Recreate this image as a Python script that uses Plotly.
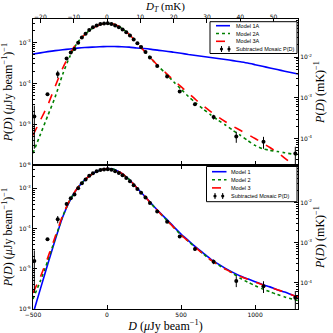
"""
P(D) comparison chart: subtracted mosaic P(D) versus models
"""
import math
import plotly.graph_objects as go

# Subtracted mosaic P(D) data points (D in uJy/beam)
d_data = [-491, -402, -333, -273, -245, -220, -195, -170, -145, -120, -95, -70,
          -45, -20, 5, 30, 55, 80, 105, 130, 155, 180, 205, 230, 260, 290, 339,
          406, 491, 594, 720, 873, 1057, 1272]
p_data = [1.55e-5, 5.4e-5, 1.7e-4, 4.1e-4, 5.7e-4, 7.0e-4, 1.0e-3, 1.33e-3,
          1.65e-3, 2.05e-3, 2.38e-3, 2.65e-3, 2.85e-3, 2.95e-3, 2.97e-3, 2.88e-3,
          2.65e-3, 2.4e-3, 2.1e-3, 1.8e-3, 1.5e-3, 1.2e-3, 9.6e-4, 7.8e-4, 5.9e-4,
          4.3e-4, 2.66e-4, 1.47e-4, 6.3e-5, 3.1e-5, 1.5e-5, 5.0e-6, 3.7e-6, 1.9e-6]
p_err = [1.3e-5, 4e-6, 3.5e-5, 3e-5, 3e-5, 3e-5, 4e-5, 4e-5, 4e-5, 5e-5, 5e-5,
         5e-5, 5e-5, 5e-5, 5e-5, 5e-5, 5e-5, 5e-5, 5e-5, 4e-5, 4e-5, 4e-5, 3e-5,
         3e-5, 2.5e-5, 2e-5, 1.5e-5, 8e-6, 4e-6, 3e-6, 2e-6, 1.5e-6, 1.2e-6, 9e-7]

# model curves, log10 P(D) on a common D grid
d_mod = [-500, -450, -400, -350, -300, -250, -200, -150, -100, -50, 0, 50, 100,
         150, 200, 250, 300, 350, 400, 450, 500, 550, 600, 650, 700, 750, 800,
         850, 900, 950, 1000, 1050, 1100, 1150, 1200, 1250, 1290]

log_1a = [-3.28, -3.25, -3.22, -3.195, -3.175, -3.155, -3.135, -3.12, -3.11, -3.10,
          -3.095, -3.095, -3.10, -3.11, -3.13, -3.145, -3.165, -3.19, -3.21, -3.235,
          -3.26, -3.29, -3.315, -3.34, -3.365, -3.39, -3.415, -3.44, -3.47, -3.50,
          -3.54, -3.58, -3.62, -3.66, -3.70, -3.74, -3.77]
log_2a = [-5.71, -5.25, -4.79, -4.33, -3.78, -3.33, -3.0, -2.80, -2.655, -2.56,
          -2.53, -2.55, -2.645, -2.80, -2.99, -3.2, -3.40, -3.59, -3.77, -3.96,
          -4.14, -4.32, -4.48, -4.63, -4.77, -4.90, -5.02, -5.15, -5.27, -5.40,
          -5.52, -5.60, -5.64, -5.67, -5.70, -5.73, -5.75]
log_3a = [-5.27, -4.9, -4.53, -4.07, -3.63, -3.27, -2.98, -2.80, -2.655, -2.56,
          -2.53, -2.55, -2.645, -2.80, -2.99, -3.2, -3.40, -3.58, -3.75, -3.92,
          -4.08, -4.24, -4.40, -4.55, -4.69, -4.82, -4.94, -5.05, -5.15, -5.25,
          -5.35, -5.46, -5.57, -5.69, -5.83, -5.98, -6.12]

log_1 = [-6.12, -5.5, -4.88, -4.28, -3.72, -3.3, -3.0, -2.79, -2.645, -2.55,
         -2.51, -2.53, -2.63, -2.78, -2.98, -3.18, -3.38, -3.58, -3.76, -3.95,
         -4.14, -4.30, -4.46, -4.61, -4.76, -4.88, -4.99, -5.09, -5.18, -5.25,
         -5.32, -5.39, -5.45, -5.52, -5.58, -5.65, -5.70]
log_2 = [-5.75, -5.3, -4.8, -4.25, -3.70, -3.29, -2.995, -2.79, -2.645, -2.55,
         -2.51, -2.53, -2.63, -2.78, -2.98, -3.18, -3.39, -3.59, -3.78, -3.97,
         -4.16, -4.32, -4.48, -4.63, -4.78, -4.90, -5.01, -5.11, -5.24, -5.33,
         -5.42, -5.50, -5.57, -5.64, -5.70, -5.75, -5.79]
log_3 = [-5.6, -5.2, -4.72, -4.2, -3.68, -3.28, -2.99, -2.79, -2.645, -2.55,
         -2.51, -2.53, -2.63, -2.78, -2.98, -3.18, -3.39, -3.59, -3.78, -3.97,
         -4.16, -4.32, -4.48, -4.63, -4.78, -4.90, -5.01, -5.11, -5.19, -5.26,
         -5.33, -5.40, -5.46, -5.52, -5.58, -5.65, -5.70]

names_top = ["Model 1A", "Model 2A", "Model 3A"]
names_bot = ["Model 1", "Model 2", "Model 3"]
data_name = "Subtracted Mosaic P(D)"

left_ticks = [1e-6, 1e-5, 1e-4, 1e-3]
left_text = ["10<sup>-6</sup>", "10<sup>-5</sup>", "10<sup>-4</sup>", "10<sup>-3</sup>"]
right_ticks = [1e-4, 1e-3, 1e-2]
right_text = ["10<sup>-4</sup>", "10<sup>-3</sup>", "10<sup>-2</sup>"]
mk_ticks = [-20, -10, 0, 10, 20, 30, 40, 50]
d_ticks = [-500, 0, 500, 1000]

UJY_PER_MK = 22.5
YR = [-6.0, -2.42]
XR = [-500, 1290]

# layout in pixels
W = H = 333
ML, MR, MT, MB = 33, 35, 19, 24
PW, PH = W - ML - MR, H - MT - MB
SPLIT = 0.4966

COLORS = ["#0000ff", "#008000", "#ff0000"]
DASHES = ["solid", "dot", "dash"]

minor_vals = [m * 10 ** e for e in range(-8, 1) for m in range(2, 10)]
serif = "Liberation Serif, Times New Roman, serif"
tick_font = dict(family="DejaVu Sans, sans-serif", size=6, color="black")


def pw(vals):
    return [10 ** v for v in vals]


def px_x(px):
    return (px - ML) / PW


def px_y(py):
    return (H - MB - py) / PH


fig = go.Figure()


def add_panel(xa, ya, logs):
    for lv, c, ds in zip(logs, COLORS, DASHES):
        fig.add_trace(go.Scatter(x=d_mod, y=pw(lv), mode="lines",
                                 line=dict(color=c, width=1.6, dash=ds,
                                           shape="spline", smoothing=0.6),
                                 xaxis=xa, yaxis=ya, showlegend=False))
    fig.add_trace(go.Scatter(x=d_data, y=p_data, mode="markers",
                             marker=dict(color="black", size=4),
                             error_y=dict(type="data", array=p_err, color="black",
                                          thickness=1, width=0),
                             xaxis=xa, yaxis=ya, showlegend=False))


add_panel("x2", "y3", [log_1a, log_2a, log_3a])
add_panel("x", "y", [log_1, log_2, log_3])

# invisible anchors so the secondary axes are drawn
for xa, ya in [("x", "y2"), ("x2", "y4"), ("x3", "y3")]:
    fig.add_trace(go.Scatter(x=[0], y=[1e-3], mode="markers",
                             marker=dict(opacity=0), xaxis=xa, yaxis=ya,
                             showlegend=False, hoverinfo="skip"))


def add_legend(box, rows, sample, text_x, marks, labels):
    x0, y0, x1, y1 = box
    fig.add_shape(type="rect", xref="paper", yref="paper",
                  x0=px_x(x0), x1=px_x(x1), y0=px_y(y0), y1=px_y(y1),
                  line=dict(color="black", width=1), fillcolor="white", layer="above")
    for i, lab in enumerate(labels):
        yy = px_y(rows[i])
        if i < 3:
            fig.add_shape(type="line", xref="paper", yref="paper",
                          x0=px_x(sample[0]), x1=px_x(sample[1]), y0=yy, y1=yy,
                          line=dict(color=COLORS[i], width=1.6, dash=DASHES[i]),
                          layer="above")
        else:
            for mx in marks:
                fig.add_shape(type="line", xref="paper", yref="paper",
                              x0=px_x(mx), x1=px_x(mx), y0=px_y(rows[i] - 3),
                              y1=px_y(rows[i] + 3),
                              line=dict(color="black", width=1), layer="above")
                fig.add_shape(type="circle", xref="paper", yref="paper",
                              x0=px_x(mx - 1.6), x1=px_x(mx + 1.6),
                              y0=px_y(rows[i] - 1.6), y1=px_y(rows[i] + 1.6),
                              line=dict(color="black", width=0), fillcolor="black",
                              layer="above")
        fig.add_annotation(xref="paper", yref="paper", x=px_x(text_x), y=yy,
                           xanchor="left", yanchor="middle", showarrow=False,
                           text=lab, font=dict(family="Liberation Sans, Arial",
                                               size=5.5, color="black"))


add_legend((210, 21.7, 297, 53.5), [25.7, 33.5, 41.3, 49], (216, 230), 234,
           (221.5, 229), names_top + [data_name])
add_legend((206.5, 166.5, 297, 201.7), [171.7, 179.8, 187.9, 196], (212, 226.5), 229,
           (215, 222.7), names_bot + [data_name])

# top axis title (placed by hand, the margin above is tight)
fig.add_annotation(xref="paper", yref="paper", x=px_x(165), y=px_y(-1),
                   xanchor="center", yanchor="top", showarrow=False,
                   text="<i>D<sub>T</sub></i> (mK)", borderpad=0,
                   font=dict(family=serif, size=11, color="black"))

axis_common = dict(showline=True, linecolor="black", linewidth=1, ticks="inside",
                   tickcolor="black", ticklen=4, showgrid=False, zeroline=False,
                   tickfont=tick_font, automargin=False)
minor = dict(ticks="inside", ticklen=2, tickcolor="black", tickvals=minor_vals,
             showgrid=False)
ylog_left = dict(axis_common, type="log", range=YR, tickvals=left_ticks,
                 ticktext=left_text, minor=minor)
shift = math.log10(UJY_PER_MK)
ylog_right = dict(axis_common, type="log", range=[YR[0] + shift, YR[1] + shift],
                  tickvals=right_ticks, ticktext=right_text, side="right",
                  minor=minor)
title_font = dict(family=serif, size=12, color="black")
ytitle_left = dict(text="<i>P</i>(<i>D</i>) (<i>μ</i>Jy beam<sup>−1</sup>)<sup>−1</sup>",
                   font=title_font, standoff=3)
ytitle_right = dict(text="<i>P</i>(<i>D</i>) (mK)<sup>−1</sup>",
                    font=title_font, standoff=3)

fig.update_layout(
    width=W, height=H,
    margin=dict(l=ML, r=MR, t=MT, b=MB),
    paper_bgcolor="white", plot_bgcolor="white",
    showlegend=False,
    xaxis=dict(axis_common, domain=[0, 1], anchor="y", range=XR,
               tickvals=d_ticks, ticktext=["−500", "0", "500", "1000"],
               mirror="ticks",
               title=dict(text="<i>D</i> (<i>μ</i>Jy beam<sup>−1</sup>)",
                          font=title_font, standoff=1)),
    yaxis=dict(ylog_left, domain=[0, SPLIT], anchor="x", title=ytitle_left),
    yaxis2=dict(ylog_right, overlaying="y", anchor="x", title=ytitle_right),
    xaxis2=dict(axis_common, domain=[0, 1], anchor="y3", matches="x",
                tickvals=d_ticks, showticklabels=False),
    yaxis3=dict(ylog_left, domain=[SPLIT, 1], anchor="x2", title=ytitle_left),
    yaxis4=dict(ylog_right, overlaying="y3", anchor="x2", title=ytitle_right),
    xaxis3=dict(axis_common, overlaying="x2", anchor="y3", side="top",
                range=[XR[0] / UJY_PER_MK, XR[1] / UJY_PER_MK], tickvals=mk_ticks,
                ticklabelstandoff=-3,
                ticktext=["−20", "−10", "0", "10", "20", "30", "40", "50"]),
)

fig.write_html("out.html", config={"displayModeBar": False},
               post_script="document.body.style.margin='0';")
